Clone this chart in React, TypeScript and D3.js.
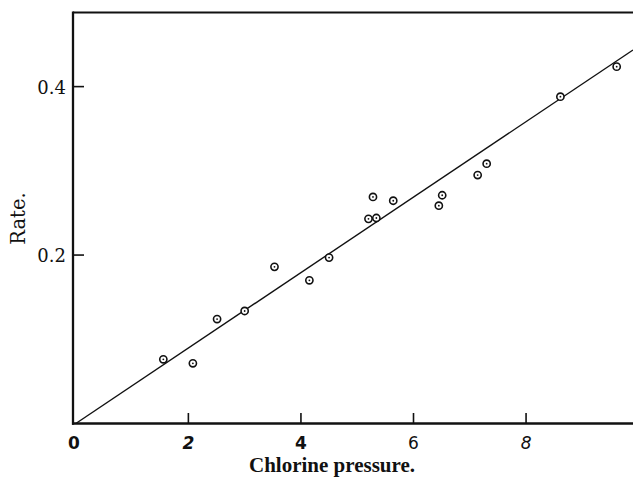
import React from "react";
import * as d3 from "d3";

// Data
const pressure = [1.555, 2.08, 2.51, 3.0, 3.53, 4.15, 4.5, 5.2, 5.34, 5.28, 5.64, 6.45, 6.51, 7.14, 7.3, 8.61, 9.61];
const rate = [0.0762, 0.0715, 0.124, 0.1336, 0.186, 0.17, 0.197, 0.243, 0.244, 0.269, 0.2645, 0.2586, 0.271, 0.295, 0.3085, 0.388, 0.4237];
const fitSlope = 0.0448;
const xTicks = [0, 2, 4, 6, 8];
const xTickItalic = [false, true, false, false, true];
const xTickWeight = [700, 700, 700, 500, 500];
const yTicks = [0.2, 0.4];
const xTitle = "Chlorine pressure.";
const yTitle = "Rate.";

const W = 633;
const H = 480;

export default function App() {
  const x = d3.scaleLinear().domain([-0.05, 9.9]).range([73, 633]);
  const y = d3.scaleLinear().domain([0, 0.488]).range([423.5, 12.5]);
  const x0 = x(-0.05);
  const yBase = y(0);
  const yTop = y(0.488);
  const xEnd = x(9.9);

  const fitX = [0, 9.9];
  const line = d3
    .line<number>()
    .x((d) => x(d))
    .y((d) => y(fitSlope * d));

  const serif = "'DejaVu Serif', serif";
  const sans = "'DejaVu Sans', sans-serif";

  return (
    <svg
      width={W}
      height={H}
      viewBox={`0 0 ${W} ${H}`}
      style={{ position: "absolute", left: 0, top: 0, background: "#fff" }}
    >
      <rect x={0} y={0} width={W} height={H} fill="#fff" />
      {/* frame: top line, left axis, bottom axis */}
      <line x1={x0} x2={xEnd} y1={yTop} y2={yTop} stroke="#111" strokeWidth={2.2} />
      <line x1={x0} x2={x0} y1={yTop - 1} y2={yBase + 1.2} stroke="#111" strokeWidth={2.3} />
      <line x1={x0 - 1} x2={xEnd} y1={yBase} y2={yBase} stroke="#111" strokeWidth={2.6} />

      {/* x ticks */}
      {xTicks.map((t, i) => (
        <g key={"xt" + t}>
          {t !== 0 && (
            <line x1={x(t)} x2={x(t)} y1={yBase} y2={yBase - 10.5} stroke="#111" strokeWidth={1.6} />
          )}
          <text
            x={t === 0 ? x0 + 1 : x(t)}
            y={449}
            textAnchor="middle"
            fontFamily={sans}
            fontSize={17}
            fontWeight={xTickWeight[i]}
            fontStyle={xTickItalic[i] ? "italic" : "normal"}
            fill="#111"
          >
            {t}
          </text>
        </g>
      ))}

      {/* y ticks */}
      {yTicks.map((t) => (
        <g key={"yt" + t}>
          <line x1={x0} x2={x0 + 11} y1={y(t)} y2={y(t)} stroke="#111" strokeWidth={1.6} />
          <text
            x={66}
            y={y(t) + 7}
            textAnchor="end"
            fontFamily={serif}
            fontSize={18}
            fill="#111"
          >
            {d3.format(".1f")(t)}
          </text>
        </g>
      ))}

      {/* fitted line */}
      <path d={line(fitX) || ""} fill="none" stroke="#111" strokeWidth={1.4} />

      {/* data points */}
      {pressure.map((p, i) => (
        <g key={"pt" + i}>
          <circle cx={x(p)} cy={y(rate[i])} r={3.6} fill="#fff" stroke="#111" strokeWidth={1.6} />
          <circle cx={x(p)} cy={y(rate[i])} r={0.9} fill="#111" />
        </g>
      ))}

      {/* axis titles */}
      <text
        x={332}
        y={472}
        textAnchor="middle"
        fontFamily="'Liberation Serif', 'Times New Roman', serif"
        fontWeight={700}
        fontSize={21}
        fill="#111"
      >
        {xTitle}
      </text>
      <text
        transform="translate(25,218.5) rotate(-90)"
        textAnchor="middle"
        fontFamily={serif}
        fontSize={19.5}
        fill="#111"
      >
        {yTitle}
      </text>
    </svg>
  );
}
